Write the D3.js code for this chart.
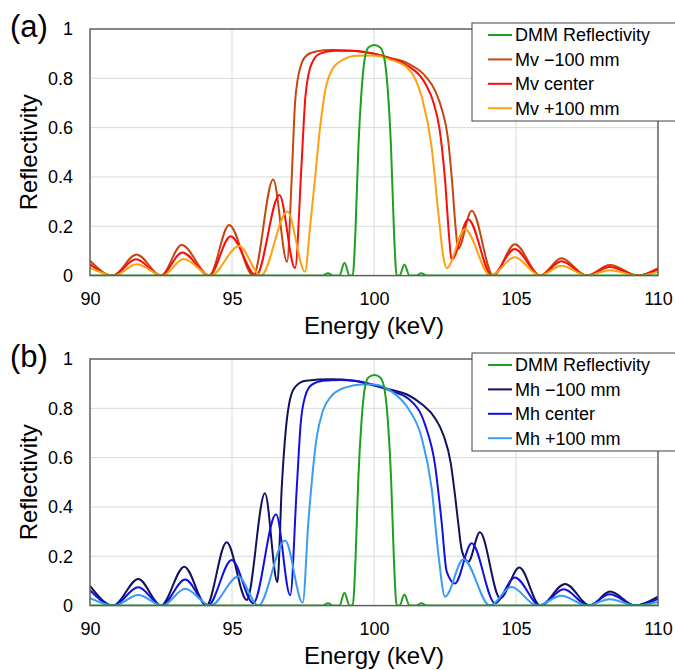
<!DOCTYPE html>
<html>
<head>
<meta charset="utf-8">
<script src="https://cdn.jsdelivr.net/npm/d3@7"></script>
<style>
  body { margin: 0; background: #fff; }
  text { font-family: "Liberation Sans", Arial, sans-serif; fill: #000; }
</style>
</head>
<body>
<div id="chart-area"></div>
<script>

// ---- data: [energy keV, reflectivity] ----
var dmm = [[90,0],[98.2,0],[98.38,0.01],[98.55,0],[98.78,0],[98.96,0.052],[99.14,0],[99.25,0],
	[99.35,0.19],[99.45,0.52],[99.55,0.73],[99.66,0.87],[99.8,0.925],[100.02,0.935],[100.22,0.925],
	[100.38,0.87],[100.5,0.73],[100.6,0.52],[100.7,0.19],[100.8,0],[100.9,0],[101.07,0.045],
	[101.25,0],[101.5,0],[101.67,0.01],[101.85,0],[110,0]];

var mvMinus = [[90,0.06],[90.8,0],[91.64,0.086],[92.5,0],[93.23,0.124],[94.2,0],[94.9,0.205],
	[95.75,0],[96.45,0.39],[96.94,0.056],[97.1,0.39],[97.22,0.7],[97.32,0.8],[97.45,0.86],
	[97.65,0.895],[98,0.91],[98.5,0.915],[99.2,0.912],[100,0.9],[100.6,0.882],[101.2,0.86],
	[101.8,0.81],[102.15,0.75],[102.4,0.67],[102.6,0.56],[102.75,0.38],[102.87,0.2],[102.96,0.108],
	[103.44,0.263],[104.2,0],[104.96,0.127],[105.85,0],[106.6,0.07],[107.49,0],[108.31,0.043],
	[109.3,0],[110,0.03]];

var mvCenter = [[90,0.046],[90.8,0],[91.62,0.066],[92.5,0],[93.25,0.094],[94.2,0],[94.95,0.16],
	[95.85,0],[96.67,0.327],[97.22,0.03],[97.45,0.455],[97.58,0.72],[97.7,0.82],[97.85,0.87],
	[98.1,0.9],[98.6,0.912],[99.2,0.912],[100,0.9],[100.6,0.88],[101.2,0.85],[101.8,0.78],
	[102.1,0.7],[102.3,0.6],[102.5,0.39],[102.65,0.15],[102.73,0.063],[103.32,0.228],[104.15,0],
	[104.95,0.108],[105.85,0],[106.6,0.058],[107.49,0],[108.3,0.035],[109.3,0],[110,0.025]];

var mvPlus = [[90,0.032],[90.85,0],[91.65,0.046],[92.55,0],[93.3,0.067],[94.25,0],[95.25,0.12],
	[96.02,0],[96.95,0.26],[97.57,0.016],[97.75,0.2],[97.92,0.39],[98.1,0.6],[98.3,0.76],
	[98.55,0.84],[98.9,0.875],[99.4,0.892],[100,0.893],[100.6,0.875],[101.2,0.84],[101.68,0.725],
	[102.03,0.52],[102.27,0.25],[102.44,0.077],[102.56,0.03],[103.2,0.188],[104.1,0],[104.95,0.074],
	[105.85,0],[106.6,0.04],[107.49,0],[108.3,0.022],[109.3,0],[110,0.015]];

var mhMinus = [[90,0.08],[90.82,0],[91.7,0.108],[92.5,0],[93.32,0.158],[94.1,0],[94.81,0.257],
	[95.52,0.023],[96.16,0.456],[96.6,0.095],[96.75,0.476],[96.9,0.72],[97.05,0.84],[97.25,0.89],
	[97.6,0.912],[98.5,0.918],[99.3,0.912],[100,0.892],[100.6,0.875],[101.2,0.854],[101.7,0.815],
	[102.15,0.76],[102.45,0.69],[102.7,0.58],[102.85,0.45],[102.97,0.33],[103.1,0.22],[103.32,0.178],
	[103.73,0.297],[104.44,0.03],[105.12,0.154],[105.85,0],[106.73,0.088],[107.6,0],[108.31,0.057],
	[109.19,0],[110,0.036]];

var mhCenter = [[90,0.062],[90.82,0],[91.7,0.074],[92.52,0],[93.35,0.106],[94.15,0],[94.99,0.185],
	[95.75,0.01],[96.55,0.37],[97.05,0.042],[97.28,0.476],[97.42,0.74],[97.58,0.85],[97.8,0.895],
	[98.2,0.912],[98.8,0.915],[99.3,0.912],[100,0.895],[100.6,0.87],[101.2,0.84],[101.8,0.733],
	[102.15,0.57],[102.38,0.34],[102.56,0.138],[102.85,0.09],[103.44,0.253],[104.26,0.01],
	[104.96,0.114],[105.85,0],[106.68,0.066],[107.55,0],[108.3,0.046],[109.2,0],[110,0.027]];

var mhPlus = [[90,0.03],[90.85,0],[91.7,0.043],[92.55,0],[93.35,0.068],[94.25,0],[95.22,0.118],
	[95.93,0],[96.87,0.264],[97.49,0.012],[97.69,0.34],[97.98,0.68],[98.2,0.79],[98.5,0.85],
	[99,0.885],[99.6,0.897],[100,0.897],[100.6,0.87],[101.2,0.8],[101.68,0.68],[102.03,0.476],
	[102.27,0.205],[102.5,0.036],[103.15,0.188],[104.08,0],[104.84,0.075],[105.75,0],[106.6,0.04],
	[107.5,0],[108.3,0.026],[109.2,0],[110,0.015]];

var xTicks = [90, 95, 100, 105, 110];
var yTicks = [0, 0.2, 0.4, 0.6, 0.8, 1];
var namesA = ["DMM Reflectivity", "Mv \u2212100 mm", "Mv center", "Mv +100 mm"];
var namesB = ["DMM Reflectivity", "Mh \u2212100 mm", "Mh center", "Mh +100 mm"];
var colorsA = ["#1f9e1f", "#c4470f", "#ff0a0a", "#ffa010"];
var colorsB = ["#1f9e1f", "#10125e", "#1010e0", "#3a9cf2"];

var width = 675, height = 670;
var plotW = 568, plotH = 246.6;

var svg = d3.select("#chart-area").append("svg")
	.attr("width", width)
	.attr("height", height);

svg.append("rect").attr("width", width).attr("height", height).attr("fill", "#fff");

var x = d3.scaleLinear().domain([90, 110]).range([0, plotW]);
var y = d3.scaleLinear().domain([0, 1]).range([plotH, 0]);

var line = d3.line()
	.x(function(d) { return x(d[0]); })
	.y(function(d) { return y(d[1]); })
	.curve(d3.curveMonotoneX);

drawPanel(29, "(a)", [mvMinus, mvCenter, mvPlus], namesA, colorsA);
drawPanel(359, "(b)", [mhMinus, mhCenter, mhPlus], namesB, colorsB);

function drawPanel(top, label, mirrors, names, colors) {
	var g = svg.append("g").attr("transform", "translate(90," + top + ")");

	// grid
	g.selectAll(".vgrid").data(xTicks.slice(1, -1)).enter().append("line")
		.attr("x1", function(d) { return x(d); }).attr("x2", function(d) { return x(d); })
		.attr("y1", 0).attr("y2", plotH)
		.attr("stroke", "#d9d9d9").attr("stroke-width", 1);
	g.selectAll(".hgrid").data(yTicks.slice(1, -1)).enter().append("line")
		.attr("x1", 0).attr("x2", plotW)
		.attr("y1", function(d) { return y(d); }).attr("y2", function(d) { return y(d); })
		.attr("stroke", "#d9d9d9").attr("stroke-width", 1);

	// axes (labels only, frame drawn below)
	var xAxis = g.append("g").attr("transform", "translate(0," + plotH + ")")
		.call(d3.axisBottom(x).tickValues(xTicks).tickSize(0).tickPadding(17));
	var yAxis = g.append("g")
		.call(d3.axisLeft(y).tickValues(yTicks).tickSize(0).tickPadding(17)
			.tickFormat(function(d) { return d === 0 || d === 1 ? String(d) : d.toFixed(1); }));
	[xAxis, yAxis].forEach(function(a) {
		a.select(".domain").remove();
		a.selectAll("text").attr("font-size", 18).attr("fill", "#000")
			.attr("font-family", "'Liberation Sans', Arial, sans-serif");
	});

	// curves
	var clip = "clip" + top;
	g.append("clipPath").attr("id", clip).append("rect")
		.attr("x", 0).attr("y", -5).attr("width", plotW).attr("height", plotH + 5);

	var all = mirrors.slice();
	all.push(dmm);
	var col = colors.slice(1).concat([colors[0]]);
	g.selectAll(".curve").data(all).enter().append("path")
		.attr("clip-path", "url(#" + clip + ")")
		.attr("d", line)
		.attr("fill", "none")
		.attr("stroke", function(d, i) { return col[i]; })
		.attr("stroke-width", 2);

	// frame
	g.append("rect").attr("width", plotW).attr("height", plotH)
		.attr("fill", "none").attr("stroke", "#5f5f5f").attr("stroke-width", 1.5);

	// legend
	var lg = g.append("g").attr("transform", "translate(382,-6)");
	lg.append("rect").attr("width", 215).attr("height", 98)
		.attr("fill", "#fff").attr("stroke", "#404040").attr("stroke-width", 1);
	names.forEach(function(n, i) {
		var ly = 12 + i * 24.4;
		lg.append("line").attr("x1", 16).attr("x2", 40).attr("y1", ly).attr("y2", ly)
			.attr("stroke", colors[i]).attr("stroke-width", 2);
		lg.append("text").attr("x", 43).attr("y", ly).attr("dy", "0.35em")
			.attr("font-size", 18).text(n);
	});

	// titles
	g.append("text").attr("x", plotW / 2).attr("y", plotH + 58)
		.attr("text-anchor", "middle").attr("font-size", 24).text("Energy (keV)");
	g.append("text").attr("transform", "translate(-53," + (plotH / 2) + ") rotate(-90)")
		.attr("text-anchor", "middle").attr("font-size", 24).text("Reflectivity");
	svg.append("text").attr("x", 10).attr("y", top + 8)
		.attr("font-size", 31).text(label);
}
</script>
</body>
</html>
